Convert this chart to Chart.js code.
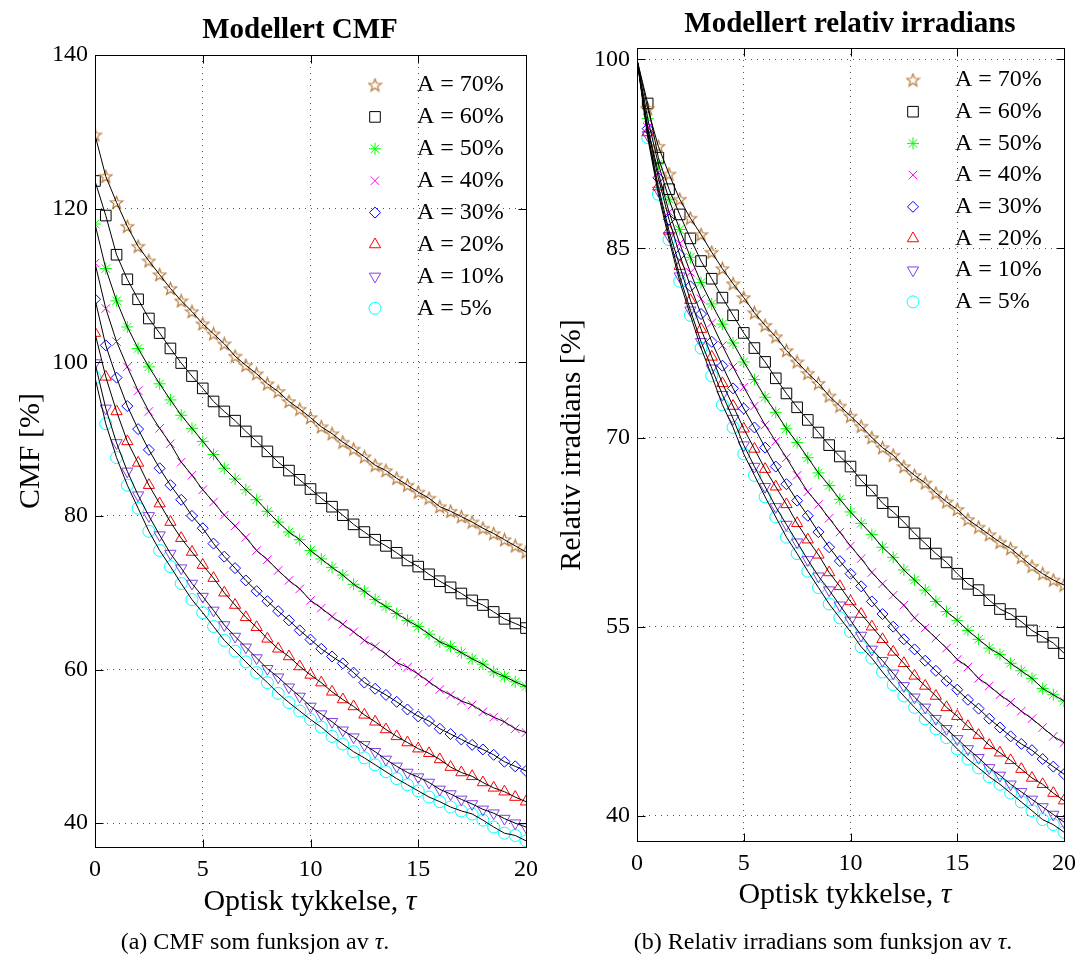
<!DOCTYPE html>
<html>
<head>
<meta charset="utf-8">
<script src="https://cdn.jsdelivr.net/npm/chart.js@4.4.1/dist/chart.umd.min.js"></script>
<style>
  html, body { margin: 0; padding: 0; background: #fff; }
  #wrap { position: relative; width: 1079px; height: 959px; }
  .box { position: absolute; top: 0; }
</style>
</head>
<body>
<div id="wrap">
  <div class="box" style="left:0"><canvas id="cmfChart" width="540" height="959"></canvas></div>
  <div class="box" style="left:540px"><canvas id="irrChart" width="539" height="959"></canvas></div>
</div>
<script>
/* optisk tykkelse (x) */
const tau = [0, 0.5, 1, 1.5, 2, 2.5, 3, 3.5, 4, 4.5, 5, 5.5, 6, 6.5, 7, 7.5, 8, 8.5, 9, 9.5, 10,
  10.5, 11, 11.5, 12, 12.5, 13, 13.5, 14, 14.5, 15, 15.5, 16, 16.5, 17, 17.5, 18, 18.5, 19, 19.5, 20];
const tauTicks = [0, 5, 10, 15, 20];
const cmfTicks = [40, 60, 80, 100, 120, 140];
const irrTicks = [40, 55, 70, 85, 100];

const seriesNames = ['A = 70%', 'A = 60%', 'A = 50%', 'A = 40%', 'A = 30%', 'A = 20%', 'A = 10%', 'A = 5%'];
const seriesColors = ['#b87835', '#000000', '#00ff00', '#ff00ff', '#0000ff', '#ff0000', '#8040e6', '#00ffff'];

/* CMF [%] */
const cmf70 = [129.6, 124.2, 120.8, 117.7, 115.1, 113.2, 111.4, 109.6, 108.0, 106.6, 105.0, 103.7, 102.4, 100.8, 99.6, 98.5, 97.2, 96.2, 94.9, 93.9,
  92.8, 91.6, 90.7, 89.6, 88.7, 87.7, 86.6, 85.9, 84.9, 84.0, 83.1, 82.3, 81.2, 80.6, 79.9, 79.2, 78.4, 77.7, 76.9, 76.1, 75.3];
const cmf60 = [123.6, 119.1, 114.0, 110.8, 108.2, 105.7, 103.8, 101.8, 99.9, 98.2, 96.6, 94.9, 93.6, 92.4, 91.0, 89.7, 88.4, 87.0, 85.9, 84.7,
  83.5, 82.3, 81.2, 80.1, 78.9, 77.9, 76.9, 76.1, 75.2, 74.2, 73.4, 72.4, 71.5, 70.7, 69.9, 69.0, 68.4, 67.5, 66.6, 66.0, 65.4];
const cmf50 = [118.0, 112.2, 108.0, 104.6, 101.8, 99.4, 97.2, 95.1, 93.1, 91.4, 89.7, 88.0, 86.2, 84.8, 83.4, 82.1, 80.6, 79.2, 77.9, 76.9,
  75.5, 74.4, 73.3, 72.3, 71.1, 70.2, 69.1, 68.2, 67.3, 66.4, 65.6, 64.6, 63.6, 63.0, 62.2, 61.4, 60.7, 59.7, 59.1, 58.4, 57.8];
const cmf40 = [112.9, 107.0, 102.7, 99.4, 96.3, 93.6, 91.4, 89.4, 87.0, 85.3, 83.4, 81.8, 80.1, 78.7, 77.2, 75.5, 74.3, 72.9, 71.6, 70.5,
  69.0, 68.0, 66.9, 65.9, 64.9, 63.8, 63.0, 62.0, 60.9, 60.3, 59.4, 58.4, 57.4, 56.7, 55.9, 55.4, 54.5, 53.8, 53.2, 52.3, 51.8];
const cmf30 = [108.2, 102.2, 98.0, 94.3, 91.3, 88.6, 86.2, 84.0, 82.1, 80.0, 78.4, 76.4, 74.7, 73.2, 71.6, 70.2, 68.9, 67.6, 66.4, 65.1,
  63.9, 62.7, 61.7, 60.8, 59.6, 58.3, 57.5, 56.7, 55.8, 54.8, 53.9, 53.3, 52.3, 51.6, 50.9, 50.2, 49.6, 48.9, 48.0, 47.4, 46.8];
const cmf20 = [103.8, 98.1, 93.6, 89.7, 86.9, 84.0, 81.6, 79.2, 77.1, 75.3, 73.6, 71.9, 70.0, 68.4, 66.8, 65.5, 64.0, 62.7, 61.7, 60.4,
  59.3, 58.3, 57.1, 56.1, 55.2, 54.1, 53.2, 52.2, 51.3, 50.5, 49.7, 49.1, 48.3, 47.3, 46.6, 46.1, 45.3, 44.6, 44.1, 43.4, 42.8];
const cmf10 = [99.9, 94.0, 89.5, 85.8, 82.7, 80.0, 77.5, 75.1, 73.2, 71.2, 69.5, 67.7, 65.8, 64.3, 62.9, 61.5, 60.1, 59.0, 57.7, 56.5,
  55.2, 54.2, 53.2, 52.1, 51.2, 50.2, 49.3, 48.3, 47.4, 46.6, 46.0, 45.3, 44.4, 43.8, 43.1, 42.5, 41.8, 41.3, 40.6, 40.0, 39.5];
const cmf5 = [98.0, 92.0, 87.6, 84.0, 81.0, 78.0, 75.5, 73.4, 71.2, 69.1, 67.4, 65.6, 63.8, 62.4, 61.0, 59.6, 58.3, 56.9, 55.7, 54.6,
  53.5, 52.5, 51.3, 50.3, 49.3, 48.5, 47.6, 46.7, 45.8, 45.0, 44.2, 43.4, 42.8, 42.1, 41.6, 41.2, 40.4, 39.5, 38.7, 38.4, 37.7];

/* relativ irradians [%] */
const irr70 = [100, 96.1, 93.1, 90.9, 88.9, 87.4, 86.1, 84.7, 83.4, 82.2, 81.1, 79.9, 78.9, 78.0, 76.9, 76.0, 75.1, 74.3, 73.3, 72.5,
  71.7, 70.9, 70.0, 69.2, 68.6, 67.7, 67.0, 66.4, 65.6, 64.9, 64.3, 63.5, 62.9, 62.3, 61.7, 61.2, 60.5, 59.8, 59.2, 58.7, 58.3];
const irr60 = [100, 96.5, 92.2, 89.7, 87.7, 85.8, 84.0, 82.6, 81.1, 79.7, 78.3, 77.1, 76.0, 74.7, 73.5, 72.4, 71.4, 70.4, 69.4, 68.5,
  67.7, 66.6, 65.8, 64.8, 64.1, 63.3, 62.4, 61.6, 60.8, 60.1, 59.2, 58.4, 57.9, 57.1, 56.4, 56.0, 55.4, 54.7, 54.2, 53.7, 52.9];
const irr50 = [100, 95.3, 91.7, 88.9, 86.5, 84.3, 82.3, 80.6, 79.0, 77.5, 76.0, 74.6, 73.2, 72.0, 70.7, 69.6, 68.4, 67.2, 66.2, 65.1,
  64.1, 63.2, 62.3, 61.3, 60.5, 59.5, 58.7, 57.9, 57.0, 56.2, 55.5, 54.7, 54.0, 53.3, 52.8, 52.1, 51.5, 50.9, 50.1, 49.6, 49.1];
const irr40 = [100, 94.6, 91.0, 87.9, 85.4, 83.1, 81.0, 79.1, 77.3, 75.6, 74.0, 72.5, 71.0, 69.7, 68.4, 67.0, 65.7, 64.7, 63.6, 62.5,
  61.4, 60.4, 59.3, 58.4, 57.5, 56.7, 55.7, 54.9, 54.1, 53.3, 52.4, 51.8, 50.9, 50.3, 49.6, 49.0, 48.3, 47.7, 47.0, 46.3, 45.8];
const irr30 = [100, 94.5, 90.6, 87.3, 84.5, 82.0, 79.8, 77.6, 75.7, 73.9, 72.3, 70.8, 69.2, 67.7, 66.3, 65.0, 63.8, 62.5, 61.3, 60.2,
  59.2, 58.2, 57.0, 56.0, 55.0, 54.0, 53.2, 52.3, 51.5, 50.7, 50.0, 49.2, 48.5, 47.7, 47.0, 46.3, 45.7, 45.2, 44.5, 43.9, 43.3];
const irr20 = [100, 94.2, 89.9, 86.4, 83.6, 80.9, 78.6, 76.4, 74.3, 72.5, 70.7, 69.1, 67.5, 66.1, 64.7, 63.2, 61.9, 60.7, 59.3, 58.2,
  57.0, 56.0, 55.0, 54.0, 53.0, 52.1, 51.1, 50.3, 49.5, 48.6, 47.9, 47.1, 46.4, 45.6, 45.0, 44.4, 43.7, 43.0, 42.5, 41.8, 41.2];
const irr10 = [100, 94.0, 89.6, 86.0, 82.8, 80.1, 77.6, 75.5, 73.4, 71.5, 69.4, 67.7, 66.1, 64.5, 63.1, 61.7, 60.3, 59.0, 57.9, 56.7,
  55.5, 54.3, 53.2, 52.3, 51.3, 50.3, 49.4, 48.6, 47.7, 46.9, 46.1, 45.3, 44.6, 43.8, 43.2, 42.5, 41.9, 41.3, 40.7, 40.1, 39.5];
const irr5 = [100, 93.8, 89.3, 85.7, 82.4, 79.7, 77.1, 74.9, 72.6, 70.8, 68.7, 67.0, 65.3, 63.7, 62.1, 60.8, 59.4, 58.1, 56.8, 55.7,
  54.6, 53.4, 52.5, 51.4, 50.4, 49.5, 48.6, 47.7, 46.9, 46.2, 45.3, 44.5, 43.8, 43.1, 42.5, 41.8, 41.1, 40.4, 39.7, 39.3, 38.7];

const SERIF = '"Liberation Serif", "Times New Roman", serif';

// femtakket stjerne finnes ikke i Chart.js, lages som bilde
function starImage(color) {
  const c = document.createElement('canvas');
  c.width = 15; c.height = 15;
  const g = c.getContext('2d');
  g.strokeStyle = color;
  g.lineWidth = 1.2;
  g.beginPath();
  for (let k = 0; k < 10; k++) {
    const r = k % 2 === 0 ? 6.6 : 2.8;
    const a = -Math.PI / 2 + k * Math.PI / 5;
    const px = 7.5 + r * Math.cos(a), py = 8 + r * Math.sin(a);
    if (k === 0) g.moveTo(px, py); else g.lineTo(px, py);
  }
  g.closePath();
  g.stroke();
  return c;
}

const markers = [
  { style: starImage(seriesColors[0]), radius: 6, rotation: 0 },
  { style: 'rect', radius: 7.5, rotation: 0 },
  { style: 'star', radius: 6, rotation: 0 },
  { style: 'crossRot', radius: 6, rotation: 0 },
  { style: 'rectRot', radius: 5.5, rotation: 0 },
  { style: 'triangle', radius: 6.5, rotation: 0 },
  { style: 'triangle', radius: 6.5, rotation: 180 },
  { style: 'circle', radius: 6, rotation: 0 }
];

function buildDatasets(valueSets, hideFirst) {
  const toPoints = vals => tau.map((t, i) => ({ x: t, y: vals[i] }));
  // linjene først, så de tegnes over markørene
  const lines = valueSets.map(vals => ({
    data: toPoints(vals),
    borderColor: '#000',
    borderWidth: 1,
    pointRadius: 0,
    tension: 0,
    fill: false
  }));
  const marks = valueSets.map((vals, k) => {
    const m = markers[k];
    return {
      data: toPoints(vals),
      showLine: false,
      pointStyle: m.style,
      pointRotation: m.rotation,
      pointRadius: hideFirst ? (c => c.dataIndex === 0 ? 0 : m.radius) : m.radius,
      pointBorderColor: seriesColors[k],
      pointBackgroundColor: 'rgba(0,0,0,0)',
      pointBorderWidth: 1
    };
  });
  return lines.concat(marks);
}

function drawWithTau(ctx, pre, post, cx, cy, size) {
  const reg = size + 'px ' + SERIF;
  const ita = 'italic ' + size + 'px ' + SERIF;
  ctx.font = reg; const w1 = ctx.measureText(pre).width;
  ctx.font = ita; const w2 = ctx.measureText('τ').width;
  ctx.font = reg; const w3 = ctx.measureText(post).width;
  let x = cx - (w1 + w2 + w3) / 2;
  ctx.textAlign = 'left';
  ctx.textBaseline = 'middle';
  ctx.font = reg; ctx.fillText(pre, x, cy); x += w1;
  ctx.font = ita; ctx.fillText('τ', x, cy); x += w2;
  ctx.font = reg; ctx.fillText(post, x, cy);
}

const decor = {
  id: 'decor',
  afterDraw(chart, args, o) {
    const { ctx, chartArea: a } = chart;
    const xs = chart.scales.x, ys = chart.scales.y;
    const L = Math.round(a.left) + 0.5, R = Math.round(a.right) + 0.5;
    const T = Math.round(a.top) + 0.5, B = Math.round(a.bottom) + 0.5;
    ctx.save();
    ctx.strokeStyle = '#000';
    ctx.lineWidth = 1;
    ctx.strokeRect(L, T, R - L, B - T);

    // innovervendte tick-merker på alle sider
    ctx.beginPath();
    xs.ticks.forEach(t => {
      const px = Math.round(xs.getPixelForValue(t.value)) + 0.5;
      ctx.moveTo(px, B); ctx.lineTo(px, B - 8);
      ctx.moveTo(px, T); ctx.lineTo(px, T + 8);
    });
    ys.ticks.forEach(t => {
      const py = Math.round(ys.getPixelForValue(t.value)) + 0.5;
      ctx.moveTo(L, py); ctx.lineTo(L + 8, py);
      ctx.moveTo(R, py); ctx.lineTo(R - 8, py);
    });
    ctx.stroke();

    // legend inne i plottet
    seriesNames.forEach((name, k) => {
      const y = o.legendY + k * o.legendStep;
      const m = markers[k];
      ctx.strokeStyle = seriesColors[k];
      ctx.fillStyle = 'rgba(0,0,0,0)';
      ctx.lineWidth = 1;
      Chart.helpers.drawPoint(ctx, { pointStyle: m.style, radius: m.radius, rotation: m.rotation, borderWidth: 1 }, o.legendX, y);
      ctx.fillStyle = '#000';
      ctx.font = '24px ' + SERIF;
      ctx.textAlign = 'left';
      ctx.textBaseline = 'middle';
      ctx.fillText(name, o.legendTextX, y);
    });

    ctx.fillStyle = '#000';
    ctx.font = 'bold 29px ' + SERIF;
    ctx.textAlign = 'center';
    ctx.textBaseline = 'alphabetic';
    ctx.fillText(o.title, o.titleX, o.titleY);

    drawWithTau(ctx, 'Optisk tykkelse, ', '', o.xlabelX, o.xlabelY, 30);

    ctx.save();
    ctx.translate(o.ylabelX, o.ylabelY);
    ctx.rotate(-Math.PI / 2);
    ctx.font = '30px ' + SERIF;
    ctx.textAlign = 'center';
    ctx.textBaseline = 'middle';
    ctx.fillText(o.ylabel, 0, 0);
    ctx.restore();

    drawWithTau(ctx, o.caption, '.', o.captionX, o.captionY, 24);
    ctx.restore();
  }
};

function makeChart(id, valueSets, yMin, yMax, yTicks, hideFirst, pad, deco) {
  const gridStyle = { color: '#555', lineWidth: 1, drawTicks: false, borderDash: [1, 5] };
  const borderStyle = { display: false, dash: [1, 5] };
  return new Chart(document.getElementById(id), {
    type: 'line',
    data: { datasets: buildDatasets(valueSets, hideFirst) },
    plugins: [decor],
    options: {
      responsive: false,
      animation: false,
      events: [],
      layout: { padding: pad },
      plugins: { legend: { display: false }, tooltip: { enabled: false }, decor: deco },
      scales: {
        x: {
          type: 'linear', min: 0, max: 20,
          afterBuildTicks: s => { s.ticks = tauTicks.map(v => ({ value: v })); },
          // etiketten "20" får stikke ut, plottet skal gå helt ut
          afterFit: s => { s.height = 40; s.paddingLeft = 0; s.paddingRight = 0; },
          grid: gridStyle, border: borderStyle,
          ticks: { color: '#000', padding: 8, maxRotation: 0, font: { family: SERIF, size: 24 } }
        },
        y: {
          type: 'linear', min: yMin, max: yMax,
          afterBuildTicks: s => { s.ticks = yTicks.map(v => ({ value: v })); },
          afterFit: s => { s.width = pad.yWidth; },
          grid: gridStyle, border: borderStyle,
          ticks: { color: '#000', padding: 7, font: { family: SERIF, size: 24 } }
        }
      }
    }
  });
}

makeChart('cmfChart', [cmf70, cmf60, cmf50, cmf40, cmf30, cmf20, cmf10, cmf5], 36.9, 140, cmfTicks, false,
  { left: 0, right: 14, top: 55, bottom: 72, yWidth: 95 },
  { title: 'Modellert CMF', titleX: 300, titleY: 38,
    xlabelX: 310, xlabelY: 902, ylabel: 'CMF [%]', ylabelX: 31, ylabelY: 451,
    caption: '(a) CMF som funksjon av ', captionX: 255, captionY: 943,
    legendX: 375, legendTextX: 417, legendY: 85, legendStep: 31.9 });

makeChart('irrChart', [irr70, irr60, irr50, irr40, irr30, irr20, irr10, irr5], 38, 100.9, irrTicks, true,
  { left: 0, right: 15, top: 48, bottom: 78, yWidth: 97 },
  { title: 'Modellert relativ irradians', titleX: 310, titleY: 32,
    xlabelX: 305, xlabelY: 895, ylabel: 'Relativ irradians [%]', ylabelX: 32, ylabelY: 445,
    caption: '(b) Relativ irradians som funksjon av ', captionX: 283, captionY: 943,
    legendX: 373, legendTextX: 415, legendY: 80, legendStep: 31.7 });
</script>
</body>
</html>
